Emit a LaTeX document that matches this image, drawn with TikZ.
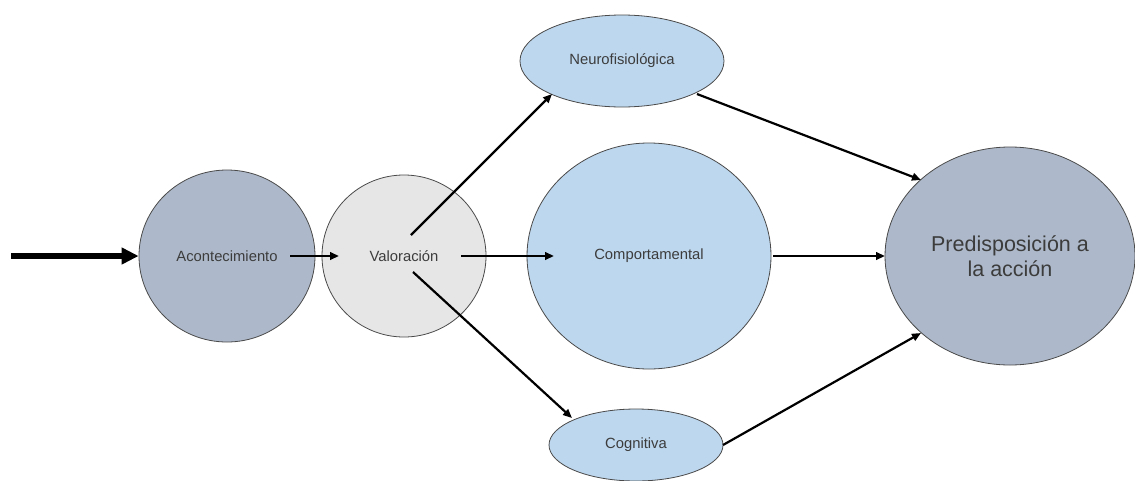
\documentclass[tikz,border=0pt]{standalone}
\usepackage{fontspec}
\setmainfont{Liberation Sans}
\usetikzlibrary{shapes.geometric,arrows.meta}
\definecolor{bluegray}{HTML}{ADB9CA}
\definecolor{lightgray}{HTML}{E7E6E6}
\definecolor{lightblue}{HTML}{BDD7EE}
\definecolor{edge}{HTML}{4A4A4A}
\definecolor{txt}{HTML}{3C3C3C}
\tikzset{
  bubble/.style={ellipse, draw=edge, line width=0.8pt, inner sep=0pt, text=txt, font=\fontsize{14.8}{17}\selectfont},
  conn/.style={line width=2.2pt, -{Triangle[length=9pt,width=7.5pt]}},
  bigconn/.style={line width=5.5pt, -{Triangle[length=17pt,width=16pt]}}
}
\begin{document}
\begin{tikzpicture}[x=1pt,y=-1pt]
\useasboundingbox (0,0) rectangle (1135,480);
% nodes
\node[bubble, fill=bluegray, minimum width=176pt, minimum height=172pt] (acont) at (227,256) {Acontecimiento};
\node[bubble, fill=lightgray, minimum width=164pt, minimum height=162pt] (val) at (404,256) {Valoración};
\node[bubble, fill=lightblue, minimum width=204pt, minimum height=92pt] (neuro) at (622,61) {Neurofisiológica};
\node[bubble, fill=lightblue, minimum width=244pt, minimum height=226pt] (comp) at (649,256) {Comportamental};
\node[bubble, fill=lightblue, minimum width=174pt, minimum height=72pt] (cog) at (636,445) {Cognitiva};
\node[bubble, fill=bluegray, minimum width=250pt, minimum height=218pt, align=center, font=\fontsize{21.5}{25}\selectfont] (pred) at (1010,256) {Predisposición a\\la acción};
% connector end points
\coordinate (start) at (11,256);
\coordinate (a1) at (290,256);
\coordinate (v0) at (339,256);
\coordinate (vn) at (411,235);
\coordinate (nin) at (552,94);
\coordinate (vc) at (461,256);
\coordinate (cin) at (554,256);
\coordinate (vg) at (413,272);
\coordinate (gin) at (572,418);
\coordinate (nout) at (697,94);
\coordinate (pn) at (921,180);
\coordinate (cout) at (773,256);
\coordinate (pc) at (885,256);
\coordinate (gout) at (723,445);
\coordinate (pg) at (921,333);
% connectors
\draw[bigconn] (start) -- (acont.west);
\draw[conn] (a1) -- (v0);
\draw[conn] (vn) -- (nin);
\draw[conn] (vc) -- (cin);
\draw[conn] (vg) -- (gin);
\draw[conn] (nout) -- (pn);
\draw[conn] (cout) -- (pc);
\draw[conn] (gout) -- (pg);
\end{tikzpicture}
\end{document}
